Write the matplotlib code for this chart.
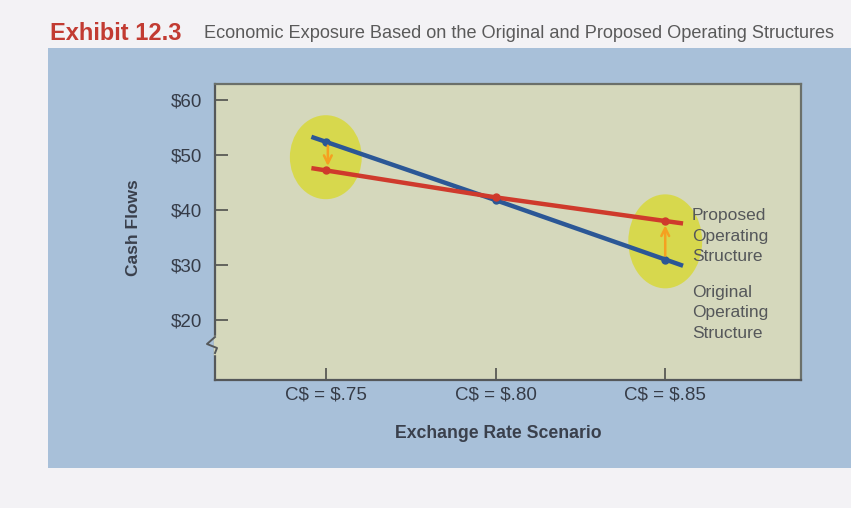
import matplotlib
matplotlib.use("Agg")
import matplotlib.pyplot as plt
from matplotlib.patches import Ellipse, Rectangle
import numpy as np

# ---- data ----
rates = [0.75, 0.80, 0.85]
tick_labels = [r"C\$ = \$.75", r"C\$ = \$.80", r"C\$ = \$.85"]
original = [52.4, 41.8, 31.0]
proposed = [47.2, 42.3, 38.0]
y_ticks = [20, 30, 40, 50, 60]
y_tick_labels = [r"\$20", r"\$30", r"\$40", r"\$50", r"\$60"]

W, H = 851, 508
plt.rcParams['font.family'] = ['Liberation Sans', 'DejaVu Sans']
fig = plt.figure(figsize=(W / 100, H / 100), dpi=100)
fig.patch.set_facecolor('#f3f2f5')

def fx(px):
    return px / W

def fy(py):
    return 1 - py / H

# blue panel
fig.patches.append(Rectangle((fx(48), fy(468)), 1.0, fy(48) - fy(468),
                             transform=fig.transFigure, facecolor='#a8c0d9',
                             edgecolor='none', zorder=-5))

# title
fig.text(fx(50), fy(33), "Exhibit 12.3", color='#c23b32', fontsize=17,
         fontweight='bold', va='center', ha='left')
fig.text(fx(204), fy(33), "Economic Exposure Based on the Original and Proposed Operating Structures",
         color='#5a5a5a', fontsize=13.1, va='center', ha='left')

left, right, top, bottom = 215, 801, 84, 380
ax = fig.add_axes([fx(left), fy(bottom), fx(right) - fx(left), fy(top) - fy(bottom)])
ax.set_zorder(2)
ax.set_facecolor('#d5d8bc')

px_per_dollar = 5.5
ax.set_ylim(20 - (bottom - 320) / px_per_dollar, 60 + (100 - top) / px_per_dollar)
px_per_unit = 170 / 0.05
ax.set_xlim(0.75 - (326 - left) / px_per_unit, 0.85 + (right - 665) / px_per_unit)

def extended(xs, ys, f0=0.085, f1=0.105):
    xs = np.asarray(xs, float)
    ys = np.asarray(ys, float)
    x0 = xs[0] - f0 * (xs[1] - xs[0])
    y0 = ys[0] - f0 * (ys[1] - ys[0])
    x1 = xs[-1] + f1 * (xs[-1] - xs[-2])
    y1 = ys[-1] + f1 * (ys[-1] - ys[-2])
    return np.r_[x0, xs, x1], np.r_[y0, ys, y1]

# highlights
ax.add_patch(Ellipse((rates[0], 49.6), 72 / px_per_unit, 84 / px_per_dollar,
                     facecolor='#d8d83a', alpha=0.85, edgecolor='none', zorder=1))
ax.add_patch(Ellipse((rates[2], 34.3), 74 / px_per_unit, 94 / px_per_dollar,
                     facecolor='#d8d83a', alpha=0.85, edgecolor='none', zorder=1))

bx, by = extended(rates, original)
ax.plot(bx, by, color='#2b5796', lw=3.2, solid_capstyle='butt', zorder=3)
ax.plot(rates, original, 'o', color='#2b5796', ms=5, zorder=4)
rx, ry = extended(rates, proposed)
ax.plot(rx, ry, color='#cf3a2c', lw=3.2, solid_capstyle='butt', zorder=3)
ax.plot(rates, proposed, 'o', color='#cf3a2c', ms=5, zorder=4)

# orange arrows
ax.annotate('', xy=(rates[0] + 0.0006, proposed[0] + 0.3), xytext=(rates[0] + 0.0006, original[0] - 0.2),
            arrowprops=dict(arrowstyle='->', color='#f5a020', lw=1.8, mutation_scale=14), zorder=5)
ax.annotate('', xy=(rates[2], proposed[2] - 0.3), xytext=(rates[2], original[2] + 0.2),
            arrowprops=dict(arrowstyle='->', color='#f5a020', lw=1.8, mutation_scale=14), zorder=5)

ax.set_xticks(rates)
ax.set_xticklabels(tick_labels)
ax.set_yticks(y_ticks)
ax.set_yticklabels(y_tick_labels)
ax.tick_params(axis='y', direction='in', length=9, width=1.3, color='#5a5a55',
               pad=9.5, labelsize=13.5, labelcolor='#363c48')
ax.tick_params(axis='x', direction='in', length=9, width=1.3, color='#5a5a55',
               pad=5, labelsize=13.5, labelcolor='#363c48')
for s in ['left', 'bottom']:
    ax.spines[s].set_color('#55585a')
    ax.spines[s].set_linewidth(1.6)
for s in ['top', 'right']:
    ax.spines[s].set_color('#6b706a')
    ax.spines[s].set_linewidth(1.6)

# axis break
hpx = bottom - top
wpx = right - left
def ac(px_x, px_y):
    return ((px_x - left) / wpx, (bottom - px_y) / hpx)
p1 = ac(left, 337); p2 = ac(left, 353)
ax.plot([p1[0], p2[0]], [p1[1], p2[1]], color='#d5d8bc', lw=2.5, transform=ax.transAxes,
        clip_on=False, zorder=6)
pts = [ac(left, 337), ac(left - 8, 344), ac(left + 2, 348), ac(left, 353)]
ax.plot([p[0] for p in pts], [p[1] for p in pts], color='#55585a', lw=1.4,
        transform=ax.transAxes, clip_on=False, zorder=7)

# axis labels
fig.text(fx(133), fy(228), "Cash Flows", rotation=90, fontsize=12.5, fontweight='bold',
         color='#3a404c', ha='center', va='center')
fig.text(fx(498), fy(433), "Exchange Rate Scenario", fontsize=12.7, fontweight='bold',
         color='#3a404c', ha='center', va='center')

# series labels
ax.text((692 - left) / wpx, (bottom - 236) / hpx, "Proposed\nOperating\nStructure",
        transform=ax.transAxes, fontsize=12.5, color='#55575a',
        ha='left', va='center', linespacing=1.45, zorder=8)
ax.text((692 - left) / wpx, (bottom - 313) / hpx, "Original\nOperating\nStructure",
        transform=ax.transAxes, fontsize=12.5, color='#55575a',
        ha='left', va='center', linespacing=1.45, zorder=8)

fig.savefig('out.png', dpi=100, facecolor=fig.get_facecolor())
